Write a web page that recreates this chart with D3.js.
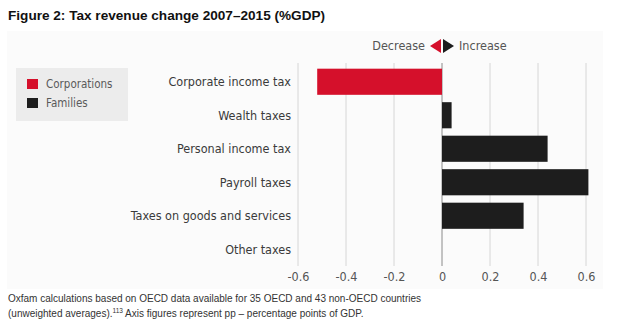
<!DOCTYPE html>
<html>
<head>
<meta charset="utf-8">
<script src="https://cdn.jsdelivr.net/npm/d3@7"></script>
<style>
  body { margin: 0; background: #fff; }
  svg { display: block; }
</style>
</head>
<body>
<div id="chart"></div>
<script>
var categories = ['Corporate income tax', 'Wealth taxes', 'Personal income tax',
                  'Payroll taxes', 'Taxes on goods and services', 'Other taxes'];
var values = [-0.52, 0.04, 0.44, 0.61, 0.34, 0];
var groups = ['corp', 'fam', 'fam', 'fam', 'fam', 'fam'];
var ticks = [-0.6, -0.4, -0.2, 0, 0.2, 0.4, 0.6];
var legendItems = ['Corporations', 'Families'];

var colors = { corp: '#d5102b', fam: '#1d1d1d' };
var condensed = '"DejaVu Sans Condensed", "Liberation Sans Narrow", sans-serif';

var svg = d3.select('#chart')
    .append('svg')
    .attr('width', 620)
    .attr('height', 328);

// title
svg.append('text')
    .attr('x', 8)
    .attr('y', 20)
    .attr('font-family', 'Liberation Sans, Arial, sans-serif')
    .attr('font-weight', 'bold')
    .attr('font-size', 13.6)
    .attr('fill', '#111')
    .text('Figure 2: Tax revenue change 2007\u20132015 (%GDP)');

// panel
svg.append('rect')
    .attr('x', 7).attr('y', 31)
    .attr('width', 596).attr('height', 258)
    .attr('fill', '#fbfbfb');

var x = d3.scaleLinear().domain([-0.6, 0.6]).range([298, 586]);
var y = d3.scaleBand().domain(categories).range([65, 266]).paddingInner(0.22).paddingOuter(0.11);

// grid
svg.append('g')
    .selectAll('line')
    .data(ticks)
    .enter()
    .append('line')
    .attr('x1', function (d) { return x(d); })
    .attr('x2', function (d) { return x(d); })
    .attr('y1', 63)
    .attr('y2', 266)
    .attr('stroke', function (d) { return d === 0 ? '#8a8a8a' : '#d6d6d6'; })
    .attr('stroke-width', 1);

// bars
svg.append('g')
    .selectAll('rect')
    .data(values)
    .enter()
    .append('rect')
    .attr('x', function (d) { return x(Math.min(0, d)); })
    .attr('y', function (d, i) { return y(categories[i]); })
    .attr('width', function (d) { return Math.abs(x(d) - x(0)); })
    .attr('height', y.bandwidth())
    .attr('fill', function (d, i) { return colors[groups[i]]; });

// category labels
svg.append('g')
    .selectAll('text')
    .data(categories)
    .enter()
    .append('text')
    .attr('x', 291)
    .attr('y', function (d) { return y(d) + y.bandwidth() / 2; })
    .attr('dy', '0.35em')
    .attr('text-anchor', 'end')
    .attr('font-family', condensed)
    .attr('font-size', 12.5)
    .attr('fill', '#3a3a3a')
    .text(function (d) { return d; });

// x tick labels
var xAxis = d3.axisBottom(x).tickValues(ticks).tickSize(0).tickPadding(0)
    .tickFormat(function (d) { return String(d); });
var ax = svg.append('g')
    .attr('transform', 'translate(0,272)')
    .call(xAxis);
ax.select('.domain').remove();
ax.selectAll('text')
    .attr('font-family', condensed)
    .attr('font-size', 12.5)
    .attr('fill', '#555');

// decrease / increase marker
var z = x(0);
var marker = svg.append('g');
marker.append('path')
    .attr('d', 'M' + (z - 1) + ',39 L' + (z - 1) + ',53 L' + (z - 12) + ',46 Z')
    .attr('fill', colors.corp);
marker.append('path')
    .attr('d', 'M' + (z + 1) + ',39 L' + (z + 1) + ',53 L' + (z + 12) + ',46 Z')
    .attr('fill', colors.fam);
marker.append('text')
    .attr('x', z - 17).attr('y', 46).attr('dy', '0.35em')
    .attr('text-anchor', 'end')
    .attr('font-family', condensed).attr('font-size', 12.5).attr('fill', '#555')
    .text('Decrease');
marker.append('text')
    .attr('x', z + 17).attr('y', 46).attr('dy', '0.35em')
    .attr('font-family', condensed).attr('font-size', 12.5).attr('fill', '#555')
    .text('Increase');

// legend
var legend = svg.append('g');
legend.append('rect')
    .attr('x', 16).attr('y', 68)
    .attr('width', 112).attr('height', 53)
    .attr('fill', '#ececec');
var li = legend.selectAll('g')
    .data(legendItems)
    .enter()
    .append('g')
    .attr('transform', function (d, i) { return 'translate(27,' + (79 + i * 19) + ')'; });
li.append('rect')
    .attr('width', 11).attr('height', 10)
    .attr('fill', function (d, i) { return i === 0 ? colors.corp : colors.fam; });
li.append('text')
    .attr('x', 19).attr('y', 5).attr('dy', '0.35em')
    .attr('font-family', condensed).attr('font-size', 11.5).attr('fill', '#5a5a5a')
    .text(function (d) { return d; });

// footnote
var note = svg.append('text')
    .attr('font-family', 'Liberation Sans, Arial, sans-serif')
    .attr('font-size', 10)
    .attr('fill', '#333');
note.append('tspan')
    .attr('x', 8).attr('y', 302)
    .text('Oxfam calculations based on OECD data available for 35 OECD and 43 non-OECD countries');
note.append('tspan')
    .attr('x', 8).attr('y', 317)
    .text('(unweighted averages).');
note.append('tspan')
    .attr('font-size', 6.5).attr('dy', -4)
    .text('113');
note.append('tspan')
    .attr('dy', 4)
    .text(' Axis figures represent pp \u2013 percentage points of GDP.');
</script>
</body>
</html>
